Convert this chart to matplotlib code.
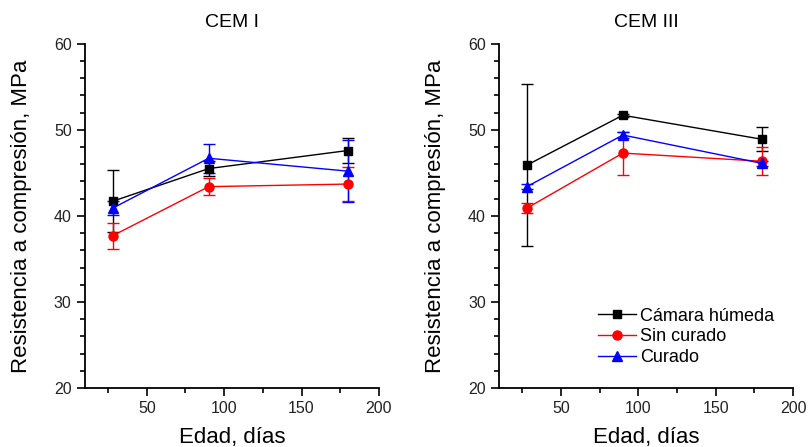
import numpy as np
import matplotlib
matplotlib.use("Agg")
import matplotlib.pyplot as plt
from matplotlib.ticker import MultipleLocator
from matplotlib.lines import Line2D

plt.rcParams['font.family'] = ['Liberation Sans', 'DejaVu Sans']

edad = [28, 90, 180]
series = ["Cámara húmeda", "Sin curado", "Curado"]

# CEM I
cem1_camara = [41.7, 45.5, 47.6]
cem1_camara_err = [3.6, 0.9, 1.5]
cem1_sin = [37.7, 43.4, 43.7]
cem1_sin_err = [1.5, 1.0, 2.0]
cem1_curado = [40.9, 46.7, 45.2]
cem1_curado_err = [0.8, 1.7, 3.6]

# CEM III
cem3_camara = [45.9, 51.7, 48.9]
cem3_camara_err = [9.4, 0.2, 1.4]
cem3_sin = [40.9, 47.3, 46.35]
cem3_sin_err = [0.6, 2.5, 1.65]
cem3_curado = [43.4, 49.4, 46.1]
cem3_curado_err = [0.3, 0.3, 0.3]

colors = ["black", "red", "blue"]
markers = ["s", "o", "^"]
msizes = [5.5, 6.5, 7]

fig = plt.figure(figsize=(8.08, 4.47), dpi=100)
ax1 = fig.add_axes([0.105, 0.132, 0.364, 0.770])
ax2 = fig.add_axes([0.6176, 0.132, 0.364, 0.770])

panels = [
    (ax1, "CEM I", [cem1_camara, cem1_sin, cem1_curado],
     [cem1_camara_err, cem1_sin_err, cem1_curado_err]),
    (ax2, "CEM III", [cem3_camara, cem3_sin, cem3_curado],
     [cem3_camara_err, cem3_sin_err, cem3_curado_err]),
]

for ax, title, vals, errs in panels:
    for v, e, c, m, ms in zip(vals, errs, colors, markers, msizes):
        ax.errorbar(edad, v, yerr=e, color=c, marker=m, markersize=ms,
                    linewidth=1, elinewidth=1, capsize=4, capthick=1)
    ax.set_xlim(10, 200)
    ax.set_ylim(20, 60)
    ax.xaxis.set_major_locator(MultipleLocator(50))
    ax.xaxis.set_minor_locator(MultipleLocator(25))
    ax.yaxis.set_major_locator(MultipleLocator(10))
    ax.yaxis.set_minor_locator(MultipleLocator(2))
    ax.spines['top'].set_visible(False)
    ax.spines['right'].set_visible(False)
    ax.spines['left'].set_linewidth(1.3)
    ax.spines['bottom'].set_linewidth(1.3)
    ax.tick_params(which='major', direction='out', length=6, width=1.2,
                   labelsize=11.5, colors='black', labelcolor='#222222')
    ax.tick_params(which='minor', direction='out', length=3.5, width=1.2)
    ax.set_title(title, fontsize=14, pad=12)
    ax.set_xlabel("Edad, días", fontsize=16, labelpad=8)
    ax.set_ylabel("Resistencia a compresión, MPa", fontsize=16, labelpad=16)

handles = [Line2D([], [], color=c, marker=m, markersize=ms, linewidth=1)
           for c, m, ms in zip(colors, markers, msizes)]
ax2.legend(handles, series, loc='upper left', frameon=False, fontsize=13,
           handlelength=2.1, handletextpad=0.2, labelspacing=0.2,
           borderaxespad=0, bbox_to_anchor=(0.313, 0.254))

fig.savefig("out.png", dpi=100)
